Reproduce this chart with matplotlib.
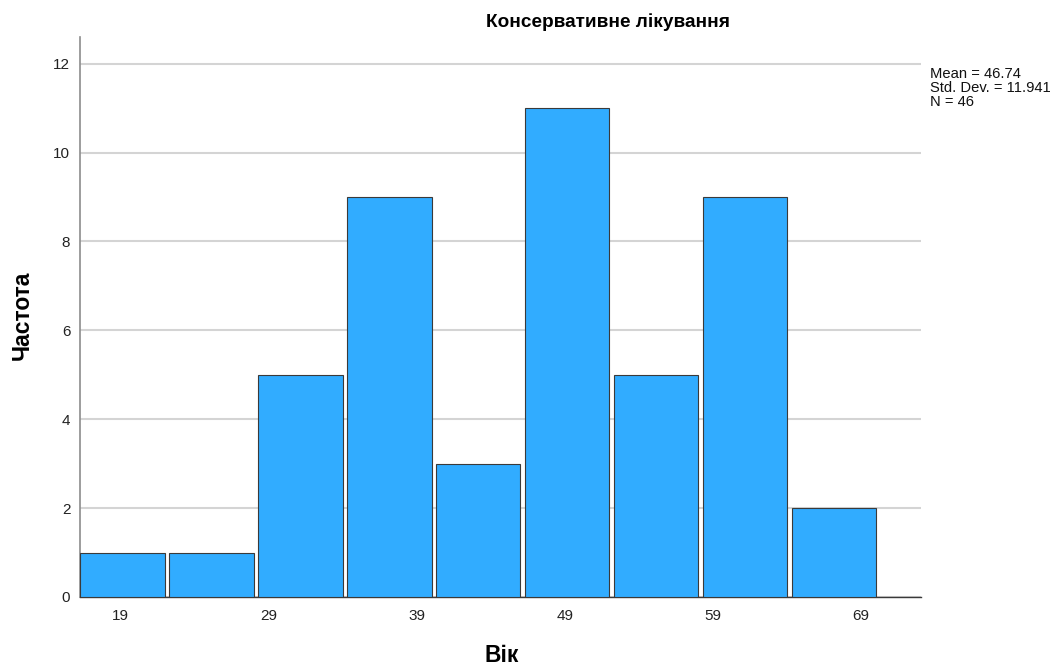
import matplotlib
matplotlib.use("Agg")
import matplotlib.pyplot as plt
import numpy as np

plt.rcParams['font.family'] = ['Liberation Sans', 'DejaVu Sans']

counts = [1, 1, 5, 9, 3, 11, 5, 9, 2]
bin_start = 16.25
bin_width = 6.01
x_ticks = [19, 29, 39, 49, 59, 69]
y_ticks = [0, 2, 4, 6, 8, 10, 12]
title = "Консервативне лікування"
xlabel = "Вік"
ylabel = "Частота"
stats = "Mean = 46.74\nStd. Dev. = 11.941\nN = 46"

fig = plt.figure(figsize=(10.61, 6.66), dpi=100)
ax = fig.add_axes([80/1061, 1-597/666, (920.7-80)/1061, (597-37)/666])

edges = bin_start + bin_width*np.arange(len(counts))
ax.bar(edges, counts, width=bin_width-0.29, align='edge', color='#31ACFF',
       edgecolor='#3a3a3a', linewidth=0.8, zorder=3)

ax.set_xlim(bin_start, 73.05)
ax.set_ylim(0, 12.6)
ax.set_xticks(x_ticks)
ax.set_yticks(y_ticks)
ax.tick_params(axis='both', length=0, labelsize=11, colors='#222222')
ax.tick_params(axis='x', pad=9)
ax.tick_params(axis='y', pad=7)
ax.yaxis.grid(True, color='#d4d4d4', linewidth=1.5, zorder=0)
ax.set_axisbelow(True)
for s in ['top', 'right']:
    ax.spines[s].set_visible(False)
ax.spines['left'].set_color('#8c8c8c')
ax.spines['left'].set_linewidth(1.2)
ax.spines['bottom'].set_color('#3a3a3a')
ax.spines['bottom'].set_linewidth(1.0)

fig.text(608/1061, 1-22/666, title, ha='center', va='center', fontsize=13.7, fontweight='bold')
fig.text(22/1061, 1-315/666, ylabel, ha='center', va='center', rotation=90, fontsize=16.5, fontweight='bold')
fig.text(502/1061, 1-655/666, xlabel, ha='center', va='center', fontsize=16.5, fontweight='bold')
fig.text(930/1061, 1-67/666, stats, ha='left', va='top', fontsize=10.6, linespacing=1.0, color='#111111')

fig.savefig("out.png", dpi=100)
